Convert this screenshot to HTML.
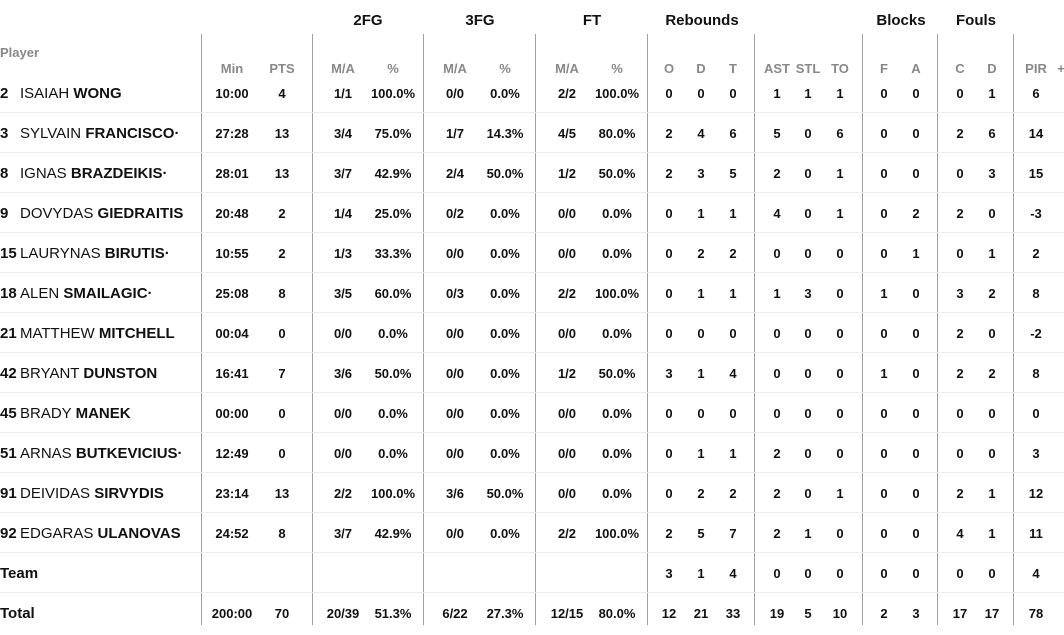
<!DOCTYPE html>
<html><head><meta charset="utf-8"><style>
*{margin:0;padding:0;box-sizing:border-box}
body{width:1064px;height:625px;background:#fff;position:relative;overflow:hidden;font-family:"Liberation Sans",sans-serif;color:#111}
.v{position:absolute;top:34px;bottom:0;width:1px;background:#a0a0a0}
.g{position:absolute;top:12px;font-weight:bold;font-size:15px;transform:translateX(-50%)}
.s{position:absolute;top:61px;font-weight:bold;font-size:13px;color:#888;width:60px;margin-left:-30px;text-align:center}
.r{position:absolute;left:0;width:1064px;height:40px;line-height:42px;border-bottom:1px solid #ececec}
.r.last{border-bottom:none}
.n{position:absolute;left:0;font-size:15px;white-space:nowrap}
.n b.num{display:inline-block;width:20px}
.r span{position:absolute;width:60px;text-align:center;font-weight:bold;font-size:13px}
.r span:nth-of-type(1){left:202px}.r span:nth-of-type(2){left:252px}
.r span:nth-of-type(3){left:313px}.r span:nth-of-type(4){left:363px}
.r span:nth-of-type(5){left:425px}.r span:nth-of-type(6){left:475px}
.r span:nth-of-type(7){left:537px}.r span:nth-of-type(8){left:587px}
.r span:nth-of-type(9){left:639px}.r span:nth-of-type(10){left:671px}
.r span:nth-of-type(11){left:703px}.r span:nth-of-type(12){left:747px}
.r span:nth-of-type(13){left:778px}.r span:nth-of-type(14){left:810px}
.r span:nth-of-type(15){left:854px}.r span:nth-of-type(16){left:886px}
.r span:nth-of-type(17){left:930px}.r span:nth-of-type(18){left:962px}
.r span:nth-of-type(19){left:1006px}
</style></head><body>
<div class="v" style="left:201px"></div><div class="v" style="left:312px"></div><div class="v" style="left:423px"></div><div class="v" style="left:535px"></div><div class="v" style="left:647px"></div><div class="v" style="left:754px"></div><div class="v" style="left:862px"></div><div class="v" style="left:937px"></div><div class="v" style="left:1013px"></div>
<div class="g" style="left:368px">2FG</div><div class="g" style="left:480px">3FG</div><div class="g" style="left:592px">FT</div><div class="g" style="left:702px">Rebounds</div><div class="g" style="left:901px">Blocks</div><div class="g" style="left:976px">Fouls</div>
<div style="position:absolute;left:0;top:45px;font-weight:bold;font-size:13px;color:#888">Player</div>
<div class="s" style="left:232px">Min</div><div class="s" style="left:282px">PTS</div><div class="s" style="left:343px">M/A</div><div class="s" style="left:393px">%</div><div class="s" style="left:455px">M/A</div><div class="s" style="left:505px">%</div><div class="s" style="left:567px">M/A</div><div class="s" style="left:617px">%</div><div class="s" style="left:669px">O</div><div class="s" style="left:701px">D</div><div class="s" style="left:733px">T</div><div class="s" style="left:777px">AST</div><div class="s" style="left:808px">STL</div><div class="s" style="left:840px">TO</div><div class="s" style="left:884px">F</div><div class="s" style="left:916px">A</div><div class="s" style="left:960px">C</div><div class="s" style="left:992px">D</div><div class="s" style="left:1036px">PIR</div><div class="s" style="left:1061px">+</div>

<div class="r" style="top:73px"><div class="n"><b class="num">2</b>ISAIAH <b>WONG</b></div><span>10:00</span><span>4</span><span>1/1</span><span>100.0%</span><span>0/0</span><span>0.0%</span><span>2/2</span><span>100.0%</span><span>0</span><span>0</span><span>0</span><span>1</span><span>1</span><span>1</span><span>0</span><span>0</span><span>0</span><span>1</span><span>6</span></div>
<div class="r" style="top:113px"><div class="n"><b class="num">3</b>SYLVAIN <b>FRANCISCO·</b></div><span>27:28</span><span>13</span><span>3/4</span><span>75.0%</span><span>1/7</span><span>14.3%</span><span>4/5</span><span>80.0%</span><span>2</span><span>4</span><span>6</span><span>5</span><span>0</span><span>6</span><span>0</span><span>0</span><span>2</span><span>6</span><span>14</span></div>
<div class="r" style="top:153px"><div class="n"><b class="num">8</b>IGNAS <b>BRAZDEIKIS·</b></div><span>28:01</span><span>13</span><span>3/7</span><span>42.9%</span><span>2/4</span><span>50.0%</span><span>1/2</span><span>50.0%</span><span>2</span><span>3</span><span>5</span><span>2</span><span>0</span><span>1</span><span>0</span><span>0</span><span>0</span><span>3</span><span>15</span></div>
<div class="r" style="top:193px"><div class="n"><b class="num">9</b>DOVYDAS <b>GIEDRAITIS</b></div><span>20:48</span><span>2</span><span>1/4</span><span>25.0%</span><span>0/2</span><span>0.0%</span><span>0/0</span><span>0.0%</span><span>0</span><span>1</span><span>1</span><span>4</span><span>0</span><span>1</span><span>0</span><span>2</span><span>2</span><span>0</span><span>-3</span></div>
<div class="r" style="top:233px"><div class="n"><b class="num">15</b>LAURYNAS <b>BIRUTIS·</b></div><span>10:55</span><span>2</span><span>1/3</span><span>33.3%</span><span>0/0</span><span>0.0%</span><span>0/0</span><span>0.0%</span><span>0</span><span>2</span><span>2</span><span>0</span><span>0</span><span>0</span><span>0</span><span>1</span><span>0</span><span>1</span><span>2</span></div>
<div class="r" style="top:273px"><div class="n"><b class="num">18</b>ALEN <b>SMAILAGIC·</b></div><span>25:08</span><span>8</span><span>3/5</span><span>60.0%</span><span>0/3</span><span>0.0%</span><span>2/2</span><span>100.0%</span><span>0</span><span>1</span><span>1</span><span>1</span><span>3</span><span>0</span><span>1</span><span>0</span><span>3</span><span>2</span><span>8</span></div>
<div class="r" style="top:313px"><div class="n"><b class="num">21</b>MATTHEW <b>MITCHELL</b></div><span>00:04</span><span>0</span><span>0/0</span><span>0.0%</span><span>0/0</span><span>0.0%</span><span>0/0</span><span>0.0%</span><span>0</span><span>0</span><span>0</span><span>0</span><span>0</span><span>0</span><span>0</span><span>0</span><span>2</span><span>0</span><span>-2</span></div>
<div class="r" style="top:353px"><div class="n"><b class="num">42</b>BRYANT <b>DUNSTON</b></div><span>16:41</span><span>7</span><span>3/6</span><span>50.0%</span><span>0/0</span><span>0.0%</span><span>1/2</span><span>50.0%</span><span>3</span><span>1</span><span>4</span><span>0</span><span>0</span><span>0</span><span>1</span><span>0</span><span>2</span><span>2</span><span>8</span></div>
<div class="r" style="top:393px"><div class="n"><b class="num">45</b>BRADY <b>MANEK</b></div><span>00:00</span><span>0</span><span>0/0</span><span>0.0%</span><span>0/0</span><span>0.0%</span><span>0/0</span><span>0.0%</span><span>0</span><span>0</span><span>0</span><span>0</span><span>0</span><span>0</span><span>0</span><span>0</span><span>0</span><span>0</span><span>0</span></div>
<div class="r" style="top:433px"><div class="n"><b class="num">51</b>ARNAS <b>BUTKEVICIUS·</b></div><span>12:49</span><span>0</span><span>0/0</span><span>0.0%</span><span>0/0</span><span>0.0%</span><span>0/0</span><span>0.0%</span><span>0</span><span>1</span><span>1</span><span>2</span><span>0</span><span>0</span><span>0</span><span>0</span><span>0</span><span>0</span><span>3</span></div>
<div class="r" style="top:473px"><div class="n"><b class="num">91</b>DEIVIDAS <b>SIRVYDIS</b></div><span>23:14</span><span>13</span><span>2/2</span><span>100.0%</span><span>3/6</span><span>50.0%</span><span>0/0</span><span>0.0%</span><span>0</span><span>2</span><span>2</span><span>2</span><span>0</span><span>1</span><span>0</span><span>0</span><span>2</span><span>1</span><span>12</span></div>
<div class="r" style="top:513px"><div class="n"><b class="num">92</b>EDGARAS <b>ULANOVAS</b></div><span>24:52</span><span>8</span><span>3/7</span><span>42.9%</span><span>0/0</span><span>0.0%</span><span>2/2</span><span>100.0%</span><span>2</span><span>5</span><span>7</span><span>2</span><span>1</span><span>0</span><span>0</span><span>0</span><span>4</span><span>1</span><span>11</span></div>
<div class="r" style="top:553px"><div class="n"><b>Team</b></div><span></span><span></span><span></span><span></span><span></span><span></span><span></span><span></span><span>3</span><span>1</span><span>4</span><span>0</span><span>0</span><span>0</span><span>0</span><span>0</span><span>0</span><span>0</span><span>4</span></div>
<div class="r last" style="top:593px"><div class="n"><b>Total</b></div><span>200:00</span><span>70</span><span>20/39</span><span>51.3%</span><span>6/22</span><span>27.3%</span><span>12/15</span><span>80.0%</span><span>12</span><span>21</span><span>33</span><span>19</span><span>5</span><span>10</span><span>2</span><span>3</span><span>17</span><span>17</span><span>78</span></div>
</body></html>
